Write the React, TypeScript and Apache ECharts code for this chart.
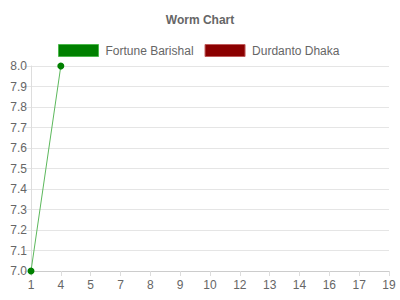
import React, { useEffect, useRef } from "react";
import * as echarts from "echarts";

const categories = ["1", "4", "5", "7", "8", "9", "10", "12", "13", "14", "16", "17", "19"];
const barishalValues = [7.0, 8.0];
const dhakaValues: number[] = [];
const seriesNames = ["Fortune Barishal", "Durdanto Dhaka"];

export default function App() {
  const ref = useRef<HTMLDivElement>(null);
  useEffect(() => {
    if (!ref.current) return;
    const chart = echarts.init(ref.current, null, { renderer: "svg" });
    const font = "Helvetica Neue, Helvetica, Arial, Liberation Sans, sans-serif";
    chart.setOption({
      animation: false,
      textStyle: { fontFamily: font },
      title: {
        text: "Worm Chart",
        left: "center",
        top: 9,
        textStyle: { fontSize: 12, fontWeight: "bold", color: "#666", fontFamily: font },
      },
      legend: {
        top: 44,
        left: 58,
        padding: 0,
        itemWidth: 40,
        itemHeight: 12,
        itemGap: 11,
        icon: "rect",
        textStyle: { fontSize: 12, color: "#666", fontFamily: font, padding: [0, 0, 0, 2] },
        data: [
          { name: seriesNames[0], itemStyle: { color: "#008000", borderColor: "#4cb84c", borderWidth: 1 } },
          { name: seriesNames[1], itemStyle: { color: "#8b0000", borderColor: "#c05a5a", borderWidth: 1 } },
        ],
      },
      grid: { left: 31, right: 11, top: 66, bottom: 29, containLabel: false },
      xAxis: {
        type: "category",
        data: categories,
        boundaryGap: false,
        axisLine: { lineStyle: { color: "#cccccc", width: 1 } },
        axisTick: { show: true, length: 5, lineStyle: { color: "#dddddd" } },
        axisLabel: { color: "#666", fontSize: 12, margin: 8, interval: 0, fontFamily: font },
        splitLine: { show: false },
      },
      yAxis: {
        type: "value",
        min: 7,
        max: 8,
        interval: 0.1,
        axisLine: { show: true, lineStyle: { color: "#dddddd", width: 1 } },
        axisTick: { show: true, length: 7, lineStyle: { color: "#e5e5e5" } },
        axisLabel: {
          color: "#666",
          fontSize: 12,
          margin: 4,
          fontFamily: font,
          formatter: (v: number) => v.toFixed(1),
        },
        splitLine: { show: true, lineStyle: { color: "#e5e5e5", width: 1 } },
      },
      series: [
        {
          name: seriesNames[0],
          type: "line",
          data: barishalValues,
          symbol: "circle",
          symbolSize: 7,
          itemStyle: { color: "#008000" },
          lineStyle: { color: "#5cb85c", width: 1 },
        },
        {
          name: seriesNames[1],
          type: "line",
          data: dhakaValues,
          symbol: "circle",
          symbolSize: 7,
          itemStyle: { color: "#8b0000" },
          lineStyle: { color: "#c05a5a", width: 1 },
        },
      ],
    });
    return () => chart.dispose();
  }, []);
  return <div ref={ref} style={{ width: 400, height: 300, position: "absolute", left: 0, top: 0 }} />;
}
